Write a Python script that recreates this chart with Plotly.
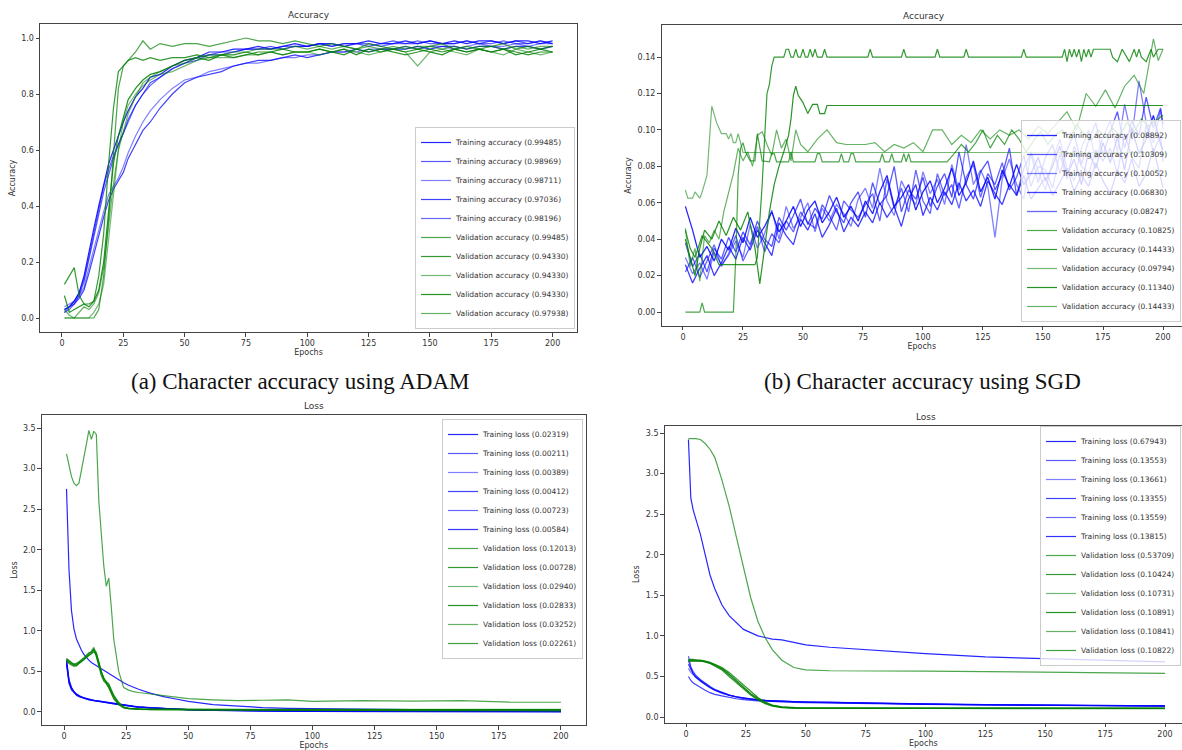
import plotly.graph_objects as go

W, H = 1182, 750
FONT = "DejaVu Sans"
TXT = "#333333"

# ---------------- (a) ADAM accuracy ----------------
EPOCHS_A = [1, 3, 5, 7, 9, 11, 13, 15, 17, 19, 21, 23, 25, 27,
            30, 33, 36, 40, 45, 50, 55, 60, 65,
            70, 75, 80, 85, 90, 95, 100, 105, 110, 115, 120, 125, 130, 135,
            140, 145, 150, 155, 160, 165, 170, 175, 180, 185, 190, 195, 200]

TRAIN_ACC_A_1 = [0.03, 0.04, 0.06, 0.09, 0.15, 0.24, 0.32, 0.40, 0.48, 0.55, 0.60, 0.65, 0.70, 0.74,
                 0.79, 0.82, 0.86, 0.87, 0.90, 0.92, 0.93, 0.95, 0.95,
                 0.96, 0.96, 0.97, 0.96, 0.97, 0.98, 0.97, 0.98, 0.98, 0.97, 0.98, 0.99, 0.98, 0.98,
                 0.99, 0.98, 0.99, 0.98, 0.99, 0.98, 0.99, 0.99, 0.98, 0.99, 0.99, 0.98, 0.99]
TRAIN_ACC_A_2 = [0.02, 0.03, 0.05, 0.08, 0.13, 0.21, 0.29, 0.37, 0.45, 0.51, 0.57, 0.62, 0.66, 0.71,
                 0.76, 0.80, 0.84, 0.86, 0.89, 0.91, 0.93, 0.94, 0.95,
                 0.95, 0.96, 0.96, 0.97, 0.96, 0.97, 0.97, 0.98, 0.97, 0.98, 0.98, 0.97, 0.98, 0.99,
                 0.98, 0.98, 0.99, 0.98, 0.98, 0.99, 0.98, 0.99, 0.98, 0.99, 0.98, 0.99, 0.98]
TRAIN_ACC_A_3 = [0.04, 0.05, 0.06, 0.08, 0.11, 0.18, 0.25, 0.32, 0.38, 0.44, 0.47, 0.50, 0.54, 0.59,
                 0.65, 0.70, 0.74, 0.78, 0.82, 0.85, 0.86, 0.88, 0.89,
                 0.90, 0.91, 0.91, 0.92, 0.93, 0.93, 0.94, 0.94, 0.95, 0.95, 0.95, 0.96, 0.96, 0.96,
                 0.97, 0.96, 0.97, 0.97, 0.96, 0.97, 0.98, 0.97, 0.97, 0.98, 0.97, 0.98, 0.98]
TRAIN_ACC_A_4 = [0.03, 0.04, 0.05, 0.07, 0.10, 0.16, 0.23, 0.30, 0.36, 0.42, 0.46, 0.49, 0.52, 0.57,
                 0.62, 0.67, 0.70, 0.75, 0.80, 0.84, 0.86, 0.87, 0.88,
                 0.90, 0.91, 0.92, 0.92, 0.93, 0.94, 0.93, 0.94, 0.95, 0.95, 0.96, 0.95, 0.96, 0.96,
                 0.96, 0.97, 0.96, 0.97, 0.97, 0.96, 0.97, 0.97, 0.96, 0.97, 0.97, 0.96, 0.97]
TRAIN_ACC_A_5 = [0.02, 0.04, 0.06, 0.09, 0.14, 0.22, 0.30, 0.39, 0.47, 0.53, 0.58, 0.62, 0.66, 0.70,
                 0.76, 0.80, 0.83, 0.86, 0.89, 0.91, 0.92, 0.94, 0.94,
                 0.95, 0.96, 0.96, 0.96, 0.97, 0.97, 0.97, 0.98, 0.97, 0.98, 0.98, 0.98, 0.97, 0.98,
                 0.98, 0.99, 0.98, 0.98, 0.98, 0.99, 0.98, 0.98, 0.99, 0.98, 0.98, 0.99, 0.98]
VAL_ACC_A_1 = [0.0, 0.0, 0.0, 0.0, 0.0, 0.0, 0.0, 0.03, 0.15, 0.35, 0.60, 0.82, 0.90, 0.92,
               0.95, 0.99, 0.96, 0.98, 0.97, 0.98, 0.98, 0.97, 0.98,
               0.99, 1.0, 0.99, 0.99, 0.98, 0.99, 0.98, 0.97, 0.98, 0.97, 0.96, 0.98, 0.97, 0.96,
               0.97, 0.96, 0.97, 0.98, 0.96, 0.97, 0.96, 0.97, 0.98, 0.96, 0.97, 0.96, 0.97]
VAL_ACC_A_2 = [0.12, 0.15, 0.18, 0.08, 0.05, 0.05, 0.06, 0.15, 0.30, 0.55, 0.75, 0.88, 0.90, 0.92,
               0.93, 0.92, 0.93, 0.92, 0.93, 0.93, 0.94, 0.93, 0.94,
               0.93, 0.94, 0.95, 0.95, 0.94, 0.95, 0.95, 0.96, 0.95, 0.94, 0.96, 0.95, 0.96, 0.95,
               0.94, 0.95, 0.96, 0.95, 0.96, 0.95, 0.96, 0.95, 0.96, 0.95, 0.94, 0.95, 0.95]
VAL_ACC_A_3 = [0.0, 0.0, 0.0, 0.0, 0.0, 0.0, 0.02, 0.05, 0.12, 0.28, 0.45, 0.60, 0.70, 0.76,
               0.80, 0.83, 0.85, 0.87, 0.88, 0.90, 0.92, 0.93, 0.93,
               0.93, 0.94, 0.94, 0.95, 0.94, 0.95, 0.95, 0.94, 0.95, 0.96, 0.95, 0.94, 0.95, 0.96,
               0.95, 0.90, 0.95, 0.96, 0.95, 0.94, 0.96, 0.95, 0.94, 0.96, 0.95, 0.94, 0.95]
VAL_ACC_A_4 = [0.08, 0.02, 0.03, 0.04, 0.05, 0.04, 0.06, 0.10, 0.20, 0.38, 0.55, 0.65, 0.72, 0.78,
               0.82, 0.85, 0.87, 0.88, 0.90, 0.92, 0.93, 0.92, 0.94,
               0.94, 0.95, 0.94, 0.95, 0.96, 0.95, 0.95, 0.96, 0.95, 0.96, 0.94, 0.96, 0.95, 0.96,
               0.95, 0.96, 0.95, 0.94, 0.96, 0.95, 0.96, 0.95, 0.96, 0.94, 0.95, 0.96, 0.95]
VAL_ACC_A_5 = [0.03, 0.01, 0.0, 0.02, 0.04, 0.03, 0.05, 0.09, 0.18, 0.33, 0.48, 0.60, 0.67, 0.73,
               0.79, 0.84, 0.86, 0.88, 0.90, 0.91, 0.93, 0.94, 0.94,
               0.95, 0.95, 0.96, 0.96, 0.96, 0.97, 0.96, 0.97, 0.96, 0.97, 0.96, 0.97, 0.96, 0.97,
               0.96, 0.97, 0.97, 0.96, 0.97, 0.96, 0.97, 0.97, 0.96, 0.97, 0.96, 0.97, 0.97]
TRAIN_LABELS_A = ["0.99485", "0.98969", "0.98711", "0.97036", "0.98196"]
VAL_LABELS_A = ["0.99485", "0.94330", "0.94330", "0.94330", "0.97938"]

# ---------------- (b) SGD accuracy ----------------
EPOCHS_B_TRAIN = list(range(1, 200, 3)) + [200]
TRAIN_ACC_B_1 = [0.058, 0.045, 0.030, 0.036, 0.028, 0.040, 0.034,
                 0.046, 0.038, 0.052, 0.041, 0.047, 0.055, 0.044,
                 0.050, 0.058, 0.047, 0.056, 0.061, 0.049, 0.055, 0.063, 0.052, 0.058, 0.050,
                 0.061, 0.054, 0.066, 0.075, 0.058, 0.063, 0.070, 0.056, 0.066,
                 0.072, 0.060, 0.068, 0.079, 0.064, 0.071, 0.083, 0.066,
                 0.074, 0.062, 0.078, 0.069, 0.081, 0.070, 0.076, 0.085,
                 0.072, 0.080, 0.091, 0.075, 0.084, 0.070, 0.088, 0.079, 0.093,
                 0.082, 0.096, 0.078, 0.101, 0.087, 0.095, 0.108, 0.092,
                 0.08892]
TRAIN_ACC_B_2 = [0.038, 0.025, 0.032, 0.022, 0.035, 0.029, 0.041,
                 0.033, 0.044, 0.037, 0.050, 0.040, 0.036, 0.052,
                 0.045, 0.053, 0.062, 0.048, 0.057, 0.051, 0.064, 0.055, 0.049, 0.060, 0.066,
                 0.052, 0.071, 0.059, 0.064, 0.080, 0.055, 0.067, 0.062, 0.074,
                 0.058, 0.069, 0.076, 0.063, 0.088, 0.070, 0.062, 0.077,
                 0.083, 0.067, 0.075, 0.090, 0.064, 0.079, 0.087, 0.071,
                 0.085, 0.092, 0.076, 0.089, 0.098, 0.081, 0.094, 0.104, 0.086,
                 0.099, 0.110, 0.090, 0.105, 0.097, 0.118, 0.101, 0.112,
                 0.10309]
TRAIN_ACC_B_3 = [0.030, 0.021, 0.027, 0.018, 0.033, 0.026, 0.031,
                 0.039, 0.030, 0.048, 0.035, 0.043, 0.056, 0.040,
                 0.058, 0.046, 0.052, 0.060, 0.044, 0.057, 0.050, 0.059, 0.054, 0.047, 0.062,
                 0.068, 0.057, 0.079, 0.061, 0.053, 0.072, 0.064, 0.059, 0.077,
                 0.065, 0.073, 0.059, 0.081, 0.067, 0.092, 0.070, 0.078,
                 0.069, 0.041, 0.073, 0.084, 0.070, 0.062, 0.088, 0.077,
                 0.067, 0.083, 0.095, 0.079, 0.072, 0.090, 0.100, 0.084, 0.096,
                 0.105, 0.088, 0.114, 0.096, 0.127, 0.104, 0.093, 0.111,
                 0.10052]
TRAIN_ACC_B_4 = [0.026, 0.016, 0.024, 0.031, 0.020, 0.027, 0.036,
                 0.029, 0.041, 0.034, 0.045, 0.038, 0.031, 0.049,
                 0.042, 0.037, 0.051, 0.045, 0.054, 0.041, 0.048, 0.057, 0.044, 0.052, 0.047,
                 0.055, 0.049, 0.060, 0.052, 0.058, 0.047, 0.062, 0.070, 0.053,
                 0.063, 0.056, 0.066, 0.059, 0.071, 0.061, 0.067, 0.058,
                 0.072, 0.065, 0.059, 0.070, 0.064, 0.075, 0.062, 0.068,
                 0.074, 0.064, 0.071, 0.079, 0.066, 0.075, 0.069, 0.082, 0.072,
                 0.065, 0.078, 0.071, 0.084, 0.069, 0.076, 0.090, 0.074,
                 0.06830]
TRAIN_ACC_B_5 = [0.022, 0.030, 0.019, 0.028, 0.037, 0.025, 0.032,
                 0.042, 0.028, 0.036, 0.047, 0.033, 0.043, 0.038,
                 0.050, 0.044, 0.055, 0.049, 0.046, 0.059, 0.053, 0.045, 0.061, 0.056, 0.052,
                 0.059, 0.065, 0.050, 0.073, 0.057, 0.068, 0.055, 0.078, 0.061,
                 0.054, 0.076, 0.064, 0.070, 0.057, 0.074, 0.081, 0.063,
                 0.076, 0.070, 0.082, 0.067, 0.074, 0.086, 0.069, 0.080,
                 0.078, 0.068, 0.087, 0.073, 0.091, 0.080, 0.076, 0.089, 0.083,
                 0.090, 0.076, 0.098, 0.085, 0.079, 0.103, 0.088, 0.097,
                 0.08247]

VAL_EPOCHS_B_1 = [1, 7, 8, 9,
                  21, 22, 23, 24, 25, 26, 28, 30, 31, 33,
                  36, 37, 38, 39, 44, 45, 46, 55, 56, 57, 58, 65, 66, 67,
                  69, 70, 71, 72, 82, 83, 84, 86, 87, 88, 91, 92, 93, 94, 95, 108,
                  110, 113, 116, 119, 122, 125, 128, 131, 134, 137, 140, 143, 146, 149, 152,
                  155, 158, 161, 164, 167, 170, 173, 176, 179, 182, 185, 188, 191, 194, 197,
                  200]
VAL_ACC_B_1 = [0.0, 0.0, 0.005, 0.0,
               0.0, 0.03, 0.075, 0.09, 0.093, 0.088, 0.083, 0.083, 0.098, 0.083,
               0.0825, 0.087, 0.087, 0.0825, 0.0825, 0.088, 0.0825, 0.0825, 0.087, 0.087, 0.0825, 0.0825, 0.087, 0.0825,
               0.0825, 0.087, 0.087, 0.0825, 0.0825, 0.087, 0.0825, 0.0825, 0.087, 0.0825, 0.0825, 0.087, 0.0825, 0.087, 0.0825, 0.0825,
               0.0825, 0.087, 0.092, 0.088, 0.093, 0.1, 0.09, 0.097, 0.092, 0.1, 0.095, 0.088, 0.094, 0.099, 0.092,
               0.097, 0.1, 0.095, 0.103, 0.098, 0.094, 0.1, 0.096, 0.101, 0.097, 0.104, 0.099, 0.106, 0.102, 0.105,
               0.108]
VAL_EPOCHS_B_2 = [1, 3, 5, 8, 12, 15,
                  30, 31, 33, 35, 36, 37, 38,
                  42, 43, 44, 45, 46, 47, 48, 49, 50, 51, 52, 53, 54, 55, 56, 58, 59, 60,
                  77, 78, 79, 91, 92, 93, 105, 106, 107, 117, 118, 119, 141, 142, 143,
                  158, 159, 160, 161, 162, 163, 164, 165, 166, 167, 168, 169, 170, 171, 172,
                  178, 179, 181, 183, 185, 186, 188, 189, 190, 191, 193, 195, 196, 198, 200]
VAL_ACC_B_2 = [0.045, 0.035, 0.03, 0.042, 0.035, 0.026,
               0.026, 0.03, 0.07, 0.12, 0.125, 0.135, 0.14,
               0.14, 0.1443, 0.1443, 0.14, 0.14, 0.1443, 0.14, 0.14, 0.1443, 0.14, 0.14, 0.1443, 0.14, 0.1443, 0.14, 0.14, 0.1443, 0.14,
               0.14, 0.1443, 0.14, 0.14, 0.1443, 0.14, 0.14, 0.1443, 0.14, 0.14, 0.1443, 0.14, 0.14, 0.1443, 0.14,
               0.14, 0.1443, 0.1375, 0.1443, 0.14, 0.1443, 0.14, 0.1443, 0.1375, 0.1443, 0.14, 0.1443, 0.14, 0.1443, 0.1443,
               0.1443, 0.14, 0.1375, 0.1443, 0.14, 0.1375, 0.1443, 0.14, 0.1443, 0.14, 0.1375, 0.1443, 0.14, 0.1443, 0.1443]
VAL_EPOCHS_B_3 = [1, 2, 4, 5, 7, 8, 10, 12, 14, 16, 18, 19, 20, 21, 22, 23, 24, 25, 200]
VAL_ACC_B_3 = [0.067, 0.0625, 0.0625, 0.066, 0.0625, 0.066, 0.075, 0.113, 0.104, 0.098,
               0.098, 0.095, 0.098, 0.093, 0.093, 0.098, 0.093, 0.0876, 0.0876]
VAL_EPOCHS_B_4 = [1, 3, 5, 7, 9, 12, 15, 18, 21, 24, 27, 30, 32, 34, 36,
                  38, 40, 42, 44, 45, 46, 47, 48, 50, 52, 54, 56, 57, 59, 60, 200]
VAL_ACC_B_4 = [0.04, 0.03, 0.02, 0.035, 0.045, 0.04, 0.05, 0.042, 0.052, 0.045, 0.055, 0.035, 0.0155, 0.035, 0.055,
               0.07, 0.08, 0.088, 0.097, 0.106, 0.119, 0.124, 0.119, 0.115, 0.109, 0.114, 0.114, 0.109, 0.109, 0.1134, 0.1134]
VAL_EPOCHS_B_5 = list(range(1, 50, 2)) + list(range(52, 197, 4)) + [198, 200]
VAL_ACC_B_5 = [0.046, 0.025, 0.035, 0.017, 0.042, 0.038, 0.045, 0.04, 0.055, 0.065,
               0.076, 0.09, 0.083, 0.088, 0.08, 0.097, 0.099, 0.092, 0.086, 0.1,
               0.09, 0.095, 0.083, 0.1, 0.092,
               0.088, 0.095, 0.1, 0.093, 0.092, 0.092, 0.092, 0.093, 0.088, 0.092,
               0.09, 0.093, 0.088, 0.1, 0.1, 0.092, 0.097, 0.093, 0.1, 0.095,
               0.1, 0.097, 0.1, 0.095, 0.102, 0.098, 0.104, 0.11, 0.1, 0.12,
               0.113, 0.122, 0.112, 0.124, 0.13, 0.12, 0.15,
               0.138, 0.1443]
TRAIN_LABELS_B = ["0.08892", "0.10309", "0.10052", "0.06830", "0.08247"]
VAL_LABELS_B = ["0.10825", "0.14433", "0.09794", "0.11340", "0.14433"]

# ---------------- (c) ADAM loss ----------------
EPOCHS_C = [1, 2, 3, 4, 5, 6, 7, 8, 9, 10, 11, 12, 13, 14, 15, 16, 17, 18, 19, 20,
            22, 24, 26, 28, 30, 35, 40, 45, 50, 60, 70, 80, 90, 100, 120, 140, 160, 180, 200]
TRAIN_LOSS_C_1 = [2.75, 1.75, 1.25, 1.02, 0.9, 0.82, 0.76, 0.71, 0.67, 0.64, 0.61, 0.59, 0.57, 0.55, 0.53, 0.51, 0.49, 0.47, 0.45, 0.43,
                  0.39, 0.36, 0.33, 0.3, 0.28, 0.23, 0.19, 0.16, 0.13, 0.09, 0.07, 0.055, 0.045, 0.04, 0.032, 0.028, 0.026, 0.024, 0.023]
TRAIN_LOSS_C_2 = [0.65, 0.4, 0.3, 0.25, 0.22, 0.2, 0.185, 0.175, 0.165, 0.155, 0.15, 0.145, 0.14, 0.135, 0.13, 0.125, 0.12, 0.115, 0.11, 0.105,
                  0.095, 0.085, 0.075, 0.068, 0.062, 0.05, 0.04, 0.033, 0.027, 0.02, 0.015, 0.011, 0.009, 0.007, 0.005, 0.004, 0.003, 0.0025, 0.002]
TRAIN_LOSS_C_3 = [0.62, 0.38, 0.29, 0.245, 0.215, 0.197, 0.183, 0.172, 0.162, 0.153, 0.147, 0.142, 0.137, 0.132, 0.127, 0.122, 0.117, 0.112, 0.107, 0.102,
                  0.093, 0.083, 0.074, 0.067, 0.061, 0.05, 0.041, 0.034, 0.028, 0.021, 0.016, 0.012, 0.01, 0.008, 0.006, 0.005, 0.0045, 0.004, 0.0039]
TRAIN_LOSS_C_4 = [0.6, 0.36, 0.28, 0.24, 0.21, 0.193, 0.18, 0.17, 0.16, 0.151, 0.145, 0.14, 0.135, 0.13, 0.125, 0.12, 0.115, 0.11, 0.105, 0.1,
                  0.091, 0.082, 0.073, 0.066, 0.06, 0.049, 0.04, 0.034, 0.028, 0.021, 0.016, 0.012, 0.01, 0.008, 0.0065, 0.0055, 0.005, 0.0045, 0.0041]
TRAIN_LOSS_C_5 = [0.58, 0.35, 0.27, 0.235, 0.207, 0.19, 0.178, 0.168, 0.158, 0.15, 0.144, 0.139, 0.134, 0.129, 0.124, 0.119, 0.114, 0.109, 0.104, 0.099,
                  0.09, 0.081, 0.073, 0.066, 0.06, 0.05, 0.042, 0.035, 0.03, 0.023, 0.018, 0.014, 0.012, 0.01, 0.009, 0.008, 0.0078, 0.0075, 0.0072]
TRAIN_LOSS_C_6 = [0.63, 0.39, 0.3, 0.25, 0.22, 0.2, 0.186, 0.175, 0.165, 0.156, 0.15, 0.144, 0.139, 0.134, 0.129, 0.124, 0.119, 0.114, 0.109, 0.104,
                  0.095, 0.086, 0.077, 0.07, 0.064, 0.052, 0.043, 0.036, 0.03, 0.022, 0.017, 0.013, 0.011, 0.009, 0.0075, 0.0068, 0.0063, 0.006, 0.0058]
VAL_LOSS_C_1 = [3.18, 3.02, 2.9, 2.82, 2.79, 2.82, 2.98, 3.1, 3.3, 3.47, 3.36, 3.46, 3.42, 2.6, 2.2, 1.8, 1.55, 1.65, 1.3, 0.9,
                0.5, 0.3, 0.27, 0.25, 0.24, 0.22, 0.2, 0.18, 0.165, 0.15, 0.14, 0.145, 0.15, 0.13, 0.14, 0.135, 0.14, 0.12, 0.12]
VAL_LOSS_C_2 = [0.65, 0.62, 0.6, 0.58, 0.57, 0.6, 0.62, 0.64, 0.67, 0.7, 0.72, 0.76, 0.72, 0.62, 0.5, 0.42, 0.36, 0.33, 0.27, 0.2,
                0.11, 0.06, 0.045, 0.04, 0.035, 0.03, 0.029, 0.028, 0.027, 0.025, 0.024, 0.022, 0.021, 0.02, 0.018, 0.017, 0.016, 0.015, 0.015]
VAL_LOSS_C_3 = [0.64, 0.6, 0.58, 0.57, 0.58, 0.6, 0.63, 0.66, 0.69, 0.72, 0.75, 0.8, 0.7, 0.58, 0.47, 0.4, 0.37, 0.34, 0.25, 0.18,
                0.1, 0.055, 0.045, 0.04, 0.037, 0.034, 0.033, 0.032, 0.031, 0.03, 0.03, 0.03, 0.029, 0.029, 0.029, 0.03, 0.029, 0.03, 0.029]
VAL_LOSS_C_4 = [0.66, 0.63, 0.61, 0.59, 0.6, 0.62, 0.64, 0.67, 0.7, 0.73, 0.74, 0.78, 0.68, 0.55, 0.45, 0.38, 0.35, 0.3, 0.23, 0.16,
                0.09, 0.05, 0.04, 0.036, 0.034, 0.032, 0.031, 0.03, 0.03, 0.029, 0.028, 0.029, 0.028, 0.028, 0.028, 0.029, 0.028, 0.028, 0.028]
VAL_LOSS_C_5 = [0.62, 0.6, 0.57, 0.56, 0.57, 0.59, 0.61, 0.64, 0.68, 0.71, 0.73, 0.77, 0.74, 0.6, 0.48, 0.41, 0.38, 0.35, 0.28, 0.21,
                0.12, 0.06, 0.048, 0.042, 0.039, 0.036, 0.035, 0.034, 0.034, 0.033, 0.033, 0.033, 0.032, 0.033, 0.032, 0.033, 0.032, 0.033, 0.033]
VAL_LOSS_C_6 = [0.63, 0.61, 0.59, 0.58, 0.59, 0.61, 0.63, 0.65, 0.68, 0.7, 0.72, 0.74, 0.71, 0.59, 0.49, 0.42, 0.36, 0.32, 0.26, 0.19,
                0.1, 0.055, 0.042, 0.036, 0.032, 0.029, 0.027, 0.026, 0.025, 0.024, 0.024, 0.023, 0.023, 0.023, 0.023, 0.022, 0.023, 0.022, 0.023]
TRAIN_LABELS_C = ["0.02319", "0.00211", "0.00389", "0.00412", "0.00723", "0.00584"]
VAL_LABELS_C = ["0.12013", "0.00728", "0.02940", "0.02833", "0.03252", "0.02261"]

# ---------------- (d) SGD loss ----------------
EPOCHS_D = [1, 2, 3, 4, 6, 8, 10, 12, 15, 18, 21, 24, 27, 30, 33, 36, 40, 45, 50, 60, 75, 100, 125, 150, 175, 200]
TRAIN_LOSS_D_1 = [3.42, 2.7, 2.55, 2.45, 2.25, 2.0, 1.75, 1.58, 1.38, 1.25, 1.16, 1.08, 1.04,
                  1.0, 0.98, 0.96, 0.95, 0.92, 0.89, 0.86, 0.83, 0.78, 0.74, 0.72, 0.70, 0.68]
TRAIN_LOSS_D_2 = [0.75, 0.62, 0.56, 0.52, 0.46, 0.41, 0.37, 0.34, 0.3, 0.27, 0.25, 0.23, 0.22,
                  0.21, 0.205, 0.2, 0.195, 0.19, 0.185, 0.18, 0.17, 0.16, 0.15, 0.145, 0.14, 0.136]
TRAIN_LOSS_D_3 = [0.6, 0.55, 0.52, 0.5, 0.45, 0.41, 0.37, 0.34, 0.3, 0.27, 0.25, 0.235, 0.22,
                  0.21, 0.205, 0.2, 0.195, 0.19, 0.185, 0.18, 0.17, 0.16, 0.152, 0.146, 0.141, 0.137]
TRAIN_LOSS_D_4 = [0.5, 0.45, 0.42, 0.4, 0.36, 0.33, 0.3, 0.28, 0.26, 0.24, 0.225, 0.215, 0.205,
                  0.2, 0.195, 0.19, 0.185, 0.18, 0.178, 0.172, 0.165, 0.155, 0.148, 0.142, 0.138, 0.134]
TRAIN_LOSS_D_5 = [0.7, 0.6, 0.54, 0.5, 0.44, 0.4, 0.36, 0.33, 0.29, 0.265, 0.245, 0.23, 0.218,
                  0.208, 0.2, 0.196, 0.19, 0.186, 0.182, 0.176, 0.168, 0.158, 0.15, 0.145, 0.14, 0.136]
TRAIN_LOSS_D_6 = [0.65, 0.58, 0.53, 0.49, 0.44, 0.4, 0.36, 0.33, 0.3, 0.27, 0.25, 0.235, 0.222,
                  0.212, 0.205, 0.2, 0.195, 0.19, 0.186, 0.18, 0.172, 0.162, 0.154, 0.148, 0.143, 0.138]
VAL_LOSS_D_1 = [3.43, 3.43, 3.43, 3.43, 3.42, 3.37, 3.3, 3.2, 2.92, 2.6, 2.22, 1.85, 1.47,
                1.18, 0.98, 0.83, 0.7, 0.61, 0.58, 0.57, 0.57, 0.565, 0.56, 0.555, 0.545, 0.537]
VAL_LOSS_D_2 = [0.7, 0.7, 0.7, 0.7, 0.69, 0.68, 0.66, 0.63, 0.58, 0.5, 0.42, 0.34, 0.27,
                0.21, 0.165, 0.135, 0.115, 0.108, 0.106, 0.105, 0.105, 0.105, 0.104, 0.104, 0.104, 0.104]
VAL_LOSS_D_3 = [0.69, 0.69, 0.69, 0.69, 0.69, 0.685, 0.67, 0.645, 0.6, 0.53, 0.45, 0.37, 0.29,
                0.23, 0.18, 0.145, 0.122, 0.112, 0.109, 0.108, 0.108, 0.108, 0.108, 0.107, 0.107, 0.107]
VAL_LOSS_D_4 = [0.71, 0.71, 0.71, 0.7, 0.7, 0.69, 0.675, 0.65, 0.61, 0.55, 0.47, 0.39, 0.31,
                0.24, 0.185, 0.148, 0.125, 0.114, 0.111, 0.11, 0.11, 0.109, 0.109, 0.109, 0.109, 0.109]
VAL_LOSS_D_5 = [0.7, 0.7, 0.7, 0.7, 0.695, 0.685, 0.668, 0.64, 0.59, 0.52, 0.44, 0.36, 0.28,
                0.22, 0.172, 0.14, 0.12, 0.112, 0.11, 0.109, 0.109, 0.109, 0.108, 0.108, 0.108, 0.108]
VAL_LOSS_D_6 = [0.68, 0.69, 0.69, 0.69, 0.69, 0.68, 0.665, 0.64, 0.595, 0.525, 0.445, 0.365, 0.285,
                0.225, 0.175, 0.142, 0.121, 0.112, 0.11, 0.109, 0.109, 0.108, 0.108, 0.108, 0.108, 0.108]
TRAIN_LABELS_D = ["0.67943", "0.13553", "0.13661", "0.13355", "0.13559", "0.13815"]
VAL_LABELS_D = ["0.53709", "0.10424", "0.10731", "0.10891", "0.10841", "0.10822"]

X_TICKS = [0, 25, 50, 75, 100, 125, 150, 175, 200]

BLUE_ALPHAS = [0.85, 0.65, 0.5, 0.75, 0.6, 0.8]
GREEN_ALPHAS = [0.7, 0.8, 0.55, 0.85, 0.6, 0.75]


def blue(i):
    return "rgba(0,0,255,%.2f)" % BLUE_ALPHAS[i % len(BLUE_ALPHAS)]


def green(i):
    return "rgba(0,128,0,%.2f)" % GREEN_ALPHAS[i % len(GREEN_ALPHAS)]


fig = go.Figure()


def add(xs, ys, name, color, xa, ya, leg, width=1.2):
    fig.add_trace(go.Scatter(
        x=xs, y=ys, mode="lines", name=name,
        line=dict(color=color, width=width),
        xaxis=xa, yaxis=ya, legend=leg, hoverinfo="skip"))


# (a)
for i, (ys, lab) in enumerate(zip([TRAIN_ACC_A_1, TRAIN_ACC_A_2, TRAIN_ACC_A_3, TRAIN_ACC_A_4, TRAIN_ACC_A_5],
                                  TRAIN_LABELS_A)):
    add(EPOCHS_A, ys, "Training accuracy (%s)" % lab, blue(i), "x", "y", "legend")
for i, (ys, lab) in enumerate(zip([VAL_ACC_A_1, VAL_ACC_A_2, VAL_ACC_A_3, VAL_ACC_A_4, VAL_ACC_A_5],
                                  VAL_LABELS_A)):
    add(EPOCHS_A, ys, "Validation accuracy (%s)" % lab, green(i), "x", "y", "legend")

# (b)
for i, (ys, lab) in enumerate(zip([TRAIN_ACC_B_1, TRAIN_ACC_B_2, TRAIN_ACC_B_3, TRAIN_ACC_B_4, TRAIN_ACC_B_5],
                                  TRAIN_LABELS_B)):
    add(EPOCHS_B_TRAIN, ys, "Training accuracy (%s)" % lab, blue(i), "x2", "y2", "legend2", 1.3)
for i, (xs, ys, lab) in enumerate(zip(
        [VAL_EPOCHS_B_1, VAL_EPOCHS_B_2, VAL_EPOCHS_B_3, VAL_EPOCHS_B_4, VAL_EPOCHS_B_5],
        [VAL_ACC_B_1, VAL_ACC_B_2, VAL_ACC_B_3, VAL_ACC_B_4, VAL_ACC_B_5],
        VAL_LABELS_B)):
    add(xs, ys, "Validation accuracy (%s)" % lab, green(i), "x2", "y2", "legend2")

# (c)
for i, (ys, lab) in enumerate(zip([TRAIN_LOSS_C_1, TRAIN_LOSS_C_2, TRAIN_LOSS_C_3, TRAIN_LOSS_C_4,
                                   TRAIN_LOSS_C_5, TRAIN_LOSS_C_6], TRAIN_LABELS_C)):
    add(EPOCHS_C, ys, "Training loss (%s)" % lab, blue(i), "x3", "y3", "legend3")
for i, (ys, lab) in enumerate(zip([VAL_LOSS_C_1, VAL_LOSS_C_2, VAL_LOSS_C_3, VAL_LOSS_C_4,
                                   VAL_LOSS_C_5, VAL_LOSS_C_6], VAL_LABELS_C)):
    add(EPOCHS_C, ys, "Validation loss (%s)" % lab, green(i), "x3", "y3", "legend3")

# (d)
for i, (ys, lab) in enumerate(zip([TRAIN_LOSS_D_1, TRAIN_LOSS_D_2, TRAIN_LOSS_D_3, TRAIN_LOSS_D_4,
                                   TRAIN_LOSS_D_5, TRAIN_LOSS_D_6], TRAIN_LABELS_D)):
    add(EPOCHS_D, ys, "Training loss (%s)" % lab, blue(i), "x4", "y4", "legend4")
for i, (ys, lab) in enumerate(zip([VAL_LOSS_D_1, VAL_LOSS_D_2, VAL_LOSS_D_3, VAL_LOSS_D_4,
                                   VAL_LOSS_D_5, VAL_LOSS_D_6], VAL_LABELS_D)):
    add(EPOCHS_D, ys, "Validation loss (%s)" % lab, green(i), "x4", "y4", "legend4")


def fx(p):
    return p / W


def fy(p):
    return 1 - p / H


def ax(**kw):
    base = dict(showline=True, mirror=True, linecolor="#444444", linewidth=1,
                ticks="outside", ticklen=3.5, tickwidth=0.8, tickcolor="#444444",
                tickfont=dict(family=FONT, size=8, color=TXT),
                showgrid=False, zeroline=False, fixedrange=True)
    base.update(kw)
    return base


def xtitle():
    return dict(text="Epochs", font=dict(family=FONT, size=8, color=TXT), standoff=0)


def ytitle(t):
    return dict(text=t, font=dict(family=FONT, size=8, color=TXT), standoff=4)


# panel frames (pixel positions on the 1182x750 page)
PA = dict(l=40, r=577, t=24, b=332)
PB = dict(l=661.5, r=W, t=25.2, b=325.7)
PC = dict(l=41.8, r=585.7, t=414.7, b=725.3)
PD = dict(l=664.6, r=W, t=425.7, b=722.7)


def dom(p):
    return [fx(p["l"]), fx(p["r"])], [fy(p["b"]), fy(p["t"])]


dxa, dya = dom(PA)
dxb, dyb = dom(PB)
dxc, dyc = dom(PC)
dxd, dyd = dom(PD)

legend_style = dict(font=dict(family=FONT, size=7.5, color=TXT),
                    bgcolor="rgba(255,255,255,0.8)", bordercolor="#cccccc",
                    borderwidth=1, itemwidth=30, tracegroupgap=0)

fig.update_layout(
    width=W, height=H, autosize=False,
    margin=dict(l=0, r=0, t=0, b=0),
    paper_bgcolor="white", plot_bgcolor="white",
    font=dict(family=FONT, size=8, color=TXT),
    xaxis=ax(domain=dxa, anchor="y", range=[-8.95, 209.95], tickvals=X_TICKS, title=xtitle()),
    yaxis=ax(domain=dya, anchor="x", range=[-0.05, 1.05], tick0=0, dtick=0.2, tickformat=".1f",
             title=ytitle("Accuracy")),
    xaxis2=ax(domain=dxb, anchor="y2", range=[-8.95, (W - 683) / 2.4], tickvals=X_TICKS, title=xtitle()),
    yaxis2=ax(domain=dyb, anchor="x2", range=[-0.0075, 0.1575], tick0=0, dtick=0.02, tickformat=".2f",
              title=ytitle("Accuracy"), mirror=False),
    xaxis3=ax(domain=dxc, anchor="y3", range=[-8.95, 209.95], tickvals=X_TICKS, title=xtitle()),
    yaxis3=ax(domain=dyc, anchor="x3", range=[-0.164, 3.664], tick0=0, dtick=0.5, tickformat=".1f",
              title=ytitle("Loss")),
    xaxis4=ax(domain=dxd, anchor="y4", range=[-8.95, (W - 686) / 2.395], tickvals=X_TICKS, title=xtitle()),
    yaxis4=ax(domain=dyd, anchor="x4", range=[-0.07, 3.59], tick0=0, dtick=0.5, tickformat=".1f",
              title=ytitle("Loss"), mirror=False),
    legend=dict(legend_style, x=fx(575), xanchor="right", y=fy(329), yanchor="bottom"),
    legend2=dict(legend_style, x=fx(1181), xanchor="right", y=fy(322), yanchor="bottom"),
    legend3=dict(legend_style, x=fx(583), xanchor="right", y=fy(419), yanchor="top"),
    legend4=dict(legend_style, x=fx(1181), xanchor="right", y=fy(426), yanchor="top"),
    showlegend=True,
)

annotations = []
for p, title in [(PA, "Accuracy"), (PB, "Accuracy"), (PC, "Loss"), (PD, "Loss")]:
    cx = (p["l"] + (p["r"] if p["r"] < W else 1187)) / 2
    annotations.append(dict(text=title, x=fx(cx), y=fy(p["t"]), xref="paper", yref="paper",
                            xanchor="center", yanchor="bottom", yshift=2, showarrow=False,
                            font=dict(family=FONT, size=9, color=TXT)))
annotations.append(dict(text="(a) Character accuracy using ADAM", x=fx(300), y=fy(381),
                        xref="paper", yref="paper", xanchor="center", yanchor="middle",
                        showarrow=False, font=dict(family="Liberation Serif", size=23, color="#111111")))
annotations.append(dict(text="(b) Character accuracy using SGD", x=fx(922), y=fy(381),
                        xref="paper", yref="paper", xanchor="center", yanchor="middle",
                        showarrow=False, font=dict(family="Liberation Serif", size=23, color="#111111")))
fig.update_layout(annotations=annotations)

fig.write_html("out.html",
               config={"displayModeBar": False, "staticPlot": False},
               post_script="document.body.style.margin='0px';document.body.style.overflow='hidden';")
